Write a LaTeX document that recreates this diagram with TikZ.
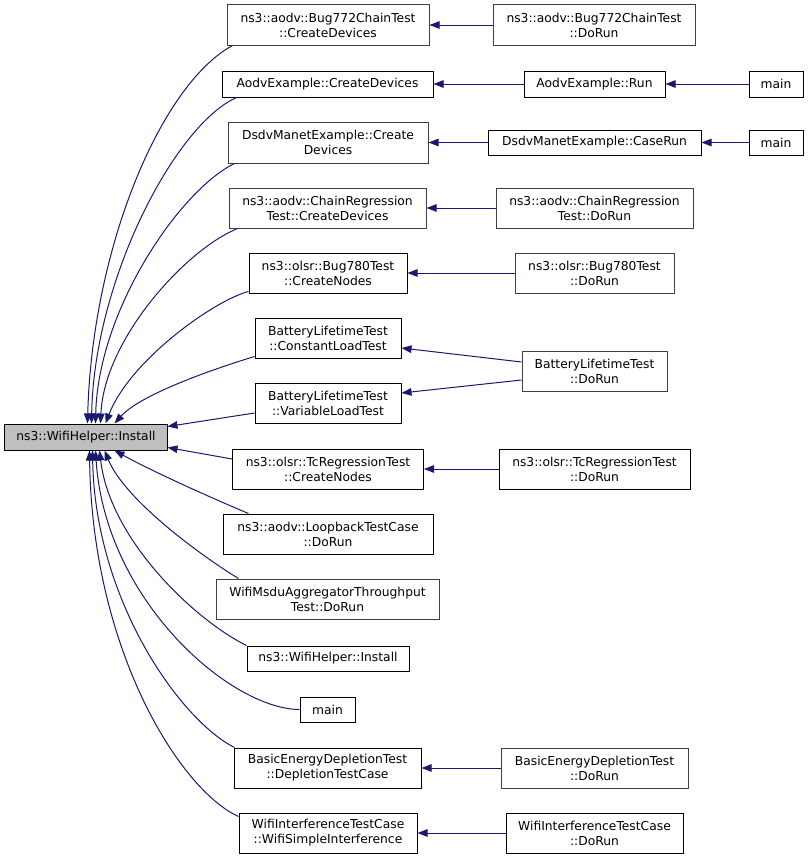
\documentclass[tikz,border=0pt]{standalone}
\usepackage{fontspec}
\setmainfont{DejaVu Sans}
\usepackage{xcolor}
\definecolor{edgeblue}{HTML}{191970}
\definecolor{boxgrey}{HTML}{404040}
\definecolor{rootfill}{HTML}{BFBFBF}
\usepackage{tikz}
\usetikzlibrary{arrows.meta}

\begin{document}
\begin{tikzpicture}[x=1bp, y=-1bp,
    fn/.style={rectangle, draw=black, fill=white, text=black, line width=1bp, inner sep=0pt, align=center, font=\fontsize{12.3bp}{15bp}\selectfont},
    fng/.style={fn, draw=boxgrey},
    wh/.style 2 args={minimum width=#1bp, minimum height=#2bp},
    call/.style={draw=edgeblue, line width=1bp, -{Triangle[length=10bp, width=7.5bp]}},
  ]
    \useasboundingbox (0,0) rectangle (811,859);
    \node[fn, fill=rootfill, wh={162}{26}] (root) at (86,437) {ns3::WifiHelper::Install};
    % Direct callers
    \node[fng, wh={202}{40}] (bugcd) at (328,25) {ns3::aodv::Bug772ChainTest\\::CreateDevices};
    \node[fn, wh={211}{26}] (aodvcd) at (327.5,84) {AodvExample::CreateDevices};
    \node[fng, wh={200}{41}] (dsdvcd) at (328,142.5) {DsdvManetExample::Create\\Devices};
    \node[fng, wh={197}{40}] (chaincd) at (327.5,208) {ns3::aodv::ChainRegression\\Test::CreateDevices};
    \node[fn, wh={158}{40}] (olsrcn) at (328,273) {ns3::olsr::Bug780Test\\::CreateNodes};
    \node[fn, wh={146}{40}] (constload) at (328,338) {BatteryLifetimeTest\\::ConstantLoadTest};
    \node[fn, wh={146}{40}] (varload) at (328,403) {BatteryLifetimeTest\\::VariableLoadTest};
    \node[fn, wh={191}{40}] (tccn) at (328,469) {ns3::olsr::TcRegressionTest\\::CreateNodes};
    \node[fn, wh={210}{40}] (loop) at (328,534) {ns3::aodv::LoopbackTestCase\\::DoRun};
    \node[fng, wh={223}{40}] (msdu) at (327.5,599) {WifiMsduAggregatorThroughput\\Test::DoRun};
    \node[fn, wh={162}{25}] (inst) at (328,658.5) {ns3::WifiHelper::Install};
    \node[fn, wh={55}{25}] (mainb) at (327.5,709.5) {main};
    \node[fn, wh={187}{40}] (depl) at (327.5,768) {BasicEnergyDepletionTest\\::DepletionTestCase};
    \node[fn, wh={178}{40}] (simp) at (328,833) {WifiInterferenceTestCase\\::WifiSimpleInterference};
    % Callers of callers
    \node[fng, wh={202}{40}] (bugdr) at (594,25) {ns3::aodv::Bug772ChainTest\\::DoRun};
    \node[fn, wh={141}{26}] (aodvrun) at (594.5,84) {AodvExample::Run};
    \node[fn, wh={54}{26}] (maina) at (776,84) {main};
    \node[fn, wh={213}{25}] (caserun) at (594.5,142.5) {DsdvManetExample::CaseRun};
    \node[fn, wh={54}{25}] (mainc) at (776,142.5) {main};
    \node[fng, wh={197}{40}] (chaindr) at (594.5,208) {ns3::aodv::ChainRegression\\Test::DoRun};
    \node[fng, wh={159}{40}] (olsrdr) at (594.5,273) {ns3::olsr::Bug780Test\\::DoRun};
    \node[fng, wh={145}{40}] (battdr) at (594.5,371) {BatteryLifetimeTest\\::DoRun};
    \node[fn, wh={191}{40}] (tcdr) at (594.5,469) {ns3::olsr::TcRegressionTest\\::DoRun};
    \node[fng, wh={187}{40}] (depldr) at (594.5,768) {BasicEnergyDepletionTest\\::DoRun};
    \node[fn, wh={177}{40}] (wifidr) at (594.5,833) {WifiInterferenceTestCase\\::DoRun};
    % Edges into the root, upper half
    \draw[call] ([xshift=6bp]bugcd.south west) .. controls (160,85) and (92,250) .. ([xshift=83bp]root.north west);
    \draw[call] ([xshift=15bp]aodvcd.south west) .. controls (175,125) and (94,280) .. ([xshift=87bp]root.north west);
    \draw[call] ([xshift=7bp]dsdvcd.south west) .. controls (180,190) and (98,310) .. ([xshift=91bp]root.north west);
    \draw[call] ([xshift=9bp]chaincd.south west) .. controls (185,250) and (104,340) .. ([xshift=96bp]root.north west);
    \draw[call] ([yshift=2bp]olsrcn.south west) .. controls (215,300) and (130,360) .. ([xshift=101bp]root.north west);
    \draw[call] ([yshift=2bp]constload.south west) .. controls (210,370) and (140,395) .. ([xshift=110bp]root.north west);
    \draw[call] ([yshift=-10bp]varload.west) -- ([yshift=-3bp]root.north east);
    \draw[call] ([yshift=10bp]tccn.west) -- ([yshift=3bp]root.south east);
    % Edges into the root, lower half
    \draw[call] ([xshift=26bp]loop.north west) .. controls (200,493) and (150,470) .. ([xshift=110bp]root.south west);
    \draw[call] ([xshift=23bp]msdu.north west) .. controls (200,555) and (125,500) .. ([xshift=100bp]root.south west);
    \draw[call] (inst.north west) .. controls (195,620) and (110,540) .. ([xshift=95bp]root.south west);
    \draw[call] (mainb.west) .. controls (230,709) and (105,600) .. ([xshift=91bp]root.south west);
    \draw[call] ([xshift=1bp]depl.north west) .. controls (180,720) and (95,600) .. ([xshift=88bp]root.south west);
    \draw[call] ([yshift=-4bp]simp.north west) .. controls (180,790) and (92,650) .. ([xshift=85bp]root.south west);
    % Second level
    \draw[call] (bugdr) -- (bugcd);
    \draw[call] (aodvrun) -- (aodvcd);
    \draw[call] (maina) -- (aodvrun);
    \draw[call] (caserun) -- (dsdvcd);
    \draw[call] (mainc) -- (caserun);
    \draw[call] (chaindr) -- (chaincd);
    \draw[call] (olsrdr) -- (olsrcn);
    \draw[call] ([yshift=9bp]battdr.west) -- ([yshift=-10bp]constload.east);
    \draw[call] ([yshift=-9bp]battdr.west) -- ([yshift=10bp]varload.east);
    \draw[call] (tcdr) -- (tccn);
    \draw[call] (depldr) -- (depl);
    \draw[call] (wifidr) -- (simp);
  \end{tikzpicture}
\end{document}
